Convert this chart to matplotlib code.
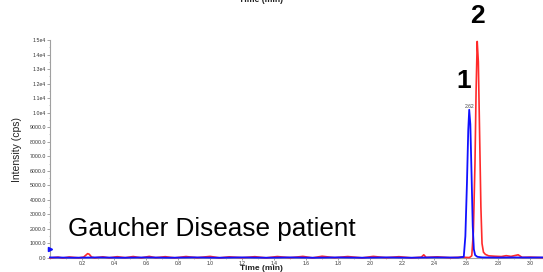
import matplotlib
matplotlib.use("Agg")
import matplotlib.pyplot as plt
from matplotlib.ticker import MultipleLocator, FixedLocator

plt.rcParams['font.family'] = ['Liberation Sans', 'DejaVu Sans']

# ---- data ----
blue_t = [0.00, 0.15, 0.30, 0.45, 0.60, 0.75, 0.90, 1.05, 1.20, 1.35, 1.50, 1.65, 1.80,
          1.95, 2.10, 2.25, 2.40, 2.55, 2.585, 2.595, 2.605, 2.613, 2.619, 2.626, 2.634,
          2.641, 2.648, 2.656, 2.67, 2.70, 2.80, 2.90, 3.00, 3.08]
blue_y = [40, 20, 40, 20, 40, 20, 40, 20, 40, 20, 40, 20, 40,
          20, 40, 20, 40, 30, 80, 1500, 5200, 8800, 10200, 9200, 5600,
          2200, 600, 200, 80, 40, 30, 40, 30, 40]

red_t = [0.00, 0.05, 0.08, 0.12, 0.18, 0.21, 0.235, 0.245, 0.26, 0.28, 0.33, 0.37,
         0.42, 0.47, 0.52, 0.57, 0.62, 0.66, 0.72, 0.78, 0.85, 0.92, 1.00, 1.06,
         1.12, 1.20, 1.28, 1.35, 1.42, 1.50, 1.58, 1.64, 1.70, 1.78, 1.86, 1.95,
         2.02, 2.10, 2.18, 2.26, 2.32, 2.335, 2.35, 2.42, 2.50, 2.57, 2.62, 2.635,
         2.645, 2.655, 2.662, 2.669, 2.676, 2.684, 2.692, 2.699, 2.708, 2.72, 2.74,
         2.78, 2.82, 2.85, 2.88, 2.925, 2.95, 3.00, 3.08]
red_y = [0, 60, 0, 70, 10, 60, 300, 260, 60, 10, 80, 10,
         90, 20, 100, 10, 110, 20, 90, 10, 100, 20, 110, 10,
         80, 20, 90, 10, 100, 20, 110, 10, 120, 20, 100, 10,
         110, 20, 90, 10, 60, 220, 40, 80, 20, 60, 30, 150,
         1800, 6500, 11500, 14900, 13500, 8500, 3500, 1000, 400, 250, 150,
         120, 100, 160, 110, 220, 40, 60, 20]

y_ticks = [0, 1000, 2000, 3000, 4000, 5000, 6000, 7000, 8000, 9000,
           10000, 11000, 12000, 13000, 14000, 15000]
y_labels = ['0.0', '1000.0', '2000.0', '3000.0', '4000.0', '5000.0', '6000.0', '7000.0',
            '8000.0', '9000.0', '1.0e4', '1.1e4', '1.2e4', '1.3e4', '1.4e4', '1.5e4']
x_ticks = [0.2, 0.4, 0.6, 0.8, 1.0, 1.2, 1.4, 1.6, 1.8, 2.0, 2.2, 2.4, 2.6, 2.8, 3.0]
x_labels = ['0.2', '0.4', '0.6', '0.8', '1.0', '1.2', '1.4', '1.6', '1.8', '2.0',
            '2.2', '2.4', '2.6', '2.8', '3.0']

peak1_rt = 2.62
peak1_label = '2.62'
peak1_height = 10200
peak2_rt = 2.669
peak2_height = 14900

W, H = 543, 272
fig = plt.figure(figsize=(W / 100, H / 100), dpi=100)
ax = fig.add_axes([50 / W, 14 / H, 493 / W, 218 / H])

ax.plot(red_t, red_y, color='#ff2a2a', lw=1.2, zorder=3, clip_on=False)
ax.plot(blue_t, blue_y, color='#1010ff', lw=1.3, zorder=4, clip_on=False)
ax.plot([0], [650], marker='>', color='#1010ff', markersize=3, clip_on=False, zorder=5)

ax.set_xlim(0, 3.08)
ax.set_ylim(0, 15000)

for s in ['top', 'right']:
    ax.spines[s].set_visible(False)
ax.spines['left'].set_color('#a0a0a0')
ax.spines['bottom'].set_color('#a0a0a0')
ax.spines['left'].set_linewidth(0.8)
ax.spines['bottom'].set_linewidth(0.8)

ax.yaxis.set_major_locator(FixedLocator(y_ticks))
ax.set_yticklabels(y_labels)
ax.yaxis.set_minor_locator(MultipleLocator(500))
ax.xaxis.set_major_locator(FixedLocator(x_ticks))
ax.set_xticklabels(x_labels)
ax.xaxis.set_minor_locator(MultipleLocator(0.1))
ax.tick_params(axis='y', which='major', labelsize=3.8, length=2, width=0.5,
               color='#808080', labelcolor='#333333', pad=1)
ax.tick_params(axis='x', which='major', labelsize=3.6, length=1.5, width=0.5,
               color='#808080', labelcolor='#333333', pad=0.5)
ax.tick_params(axis='both', which='minor', length=1, width=0.4, color='#909090')

ax.text(peak1_rt, peak1_height + 50, peak1_label, fontsize=3.6, color='#444444',
        ha='center', va='bottom')
ax.text(2.5875, 11700, '1', fontsize=19, fontweight='bold',
        ha='center', va='baseline')
ax.text(peak2_rt, 16170, '2', fontsize=19, fontweight='bold',
        ha='center', va='baseline', clip_on=False)

fig.text(68 / W, 1 - 229 / H, 'Gaucher Disease patient', fontsize=18.8,
         ha='left', va='center', color='black')
fig.text(261 / W, 1 - 268 / H, 'Time (min)', fontsize=6.0, fontweight='bold',
         ha='center', va='center', color='#222222')
fig.text(17 / W, 1 - 150 / H, 'Intensity (cps)', fontsize=7.5, rotation=90,
         ha='center', va='center', color='#222222')
fig.text(261 / W, 1.0, 'Time (min)', fontsize=6.2, fontweight='bold',
         ha='center', va='center', color='#222222')

fig.savefig('out.png', dpi=100)
